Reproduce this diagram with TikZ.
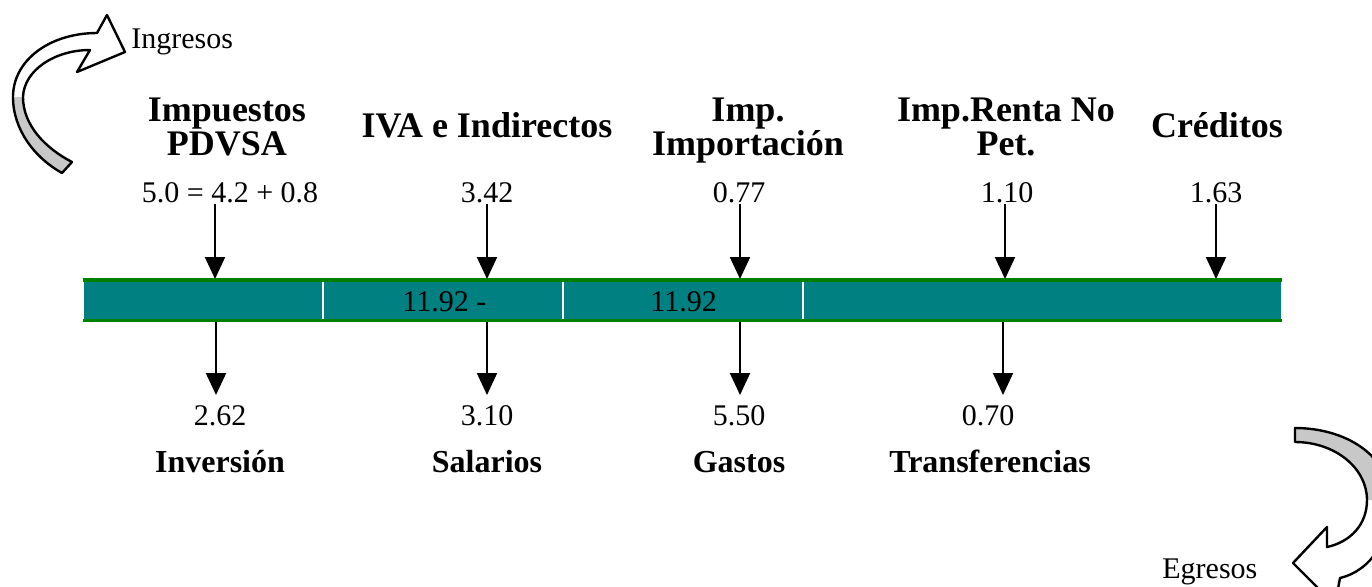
\documentclass[tikz,border=0pt]{standalone}
\usepackage{fontspec}
\setmainfont{Liberation Serif}
\usetikzlibrary{arrows.meta}
\definecolor{barteal}{RGB}{0,128,128}
\definecolor{bargreen}{RGB}{0,128,0}
\definecolor{bandgray}{RGB}{200,200,200}

\begin{document}
\begin{tikzpicture}[x=0.5pt,y=-0.5pt,
    val/.style={font=\fontsize{15}{18}\selectfont,anchor=base,inner sep=0pt},
    lbl/.style={font=\fontsize{18}{20}\selectfont\bfseries,anchor=base,inner sep=0pt},
    outlbl/.style={lbl,font=\fontsize{16}{19}\selectfont\bfseries},
    flow/.style={line width=1pt,-{Triangle[width=10pt,length=11pt]}},
    band/.style={line width=1.2pt,line join=round}]
    \clip (0,0) rectangle (1372,586);

    % curved arrow, Ingresos
    \fill[white] (97,33) -- (107,15) -- (125,52) -- (77,72) -- (90,50)
        .. controls (55,50) and (24,70) .. (23,97)
        .. controls (23,125) and (45,148) .. (72,162) -- (62,173)
        .. controls (35,158) and (13,130) .. (13,97)
        .. controls (13,60) and (50,33) .. (97,33) -- cycle;
    \fill[bandgray] (72,162) -- (62,173) .. controls (35,158) and (13,130) .. (13,97)
        -- (23,97) .. controls (23,125) and (45,148) .. (72,162) -- cycle;
    \draw[band] (97,33) -- (107,15) -- (125,52) -- (77,72) -- (90,50)
        .. controls (55,50) and (24,70) .. (23,97)
        .. controls (23,125) and (45,148) .. (72,162) -- (62,173)
        .. controls (35,158) and (13,130) .. (13,97)
        .. controls (13,60) and (50,33) .. (97,33) -- cycle;
    \node[val,anchor=base west] (ing) at (131,48) {Ingresos};

    % curved arrow, Egresos
    \fill[white] (1295,442) .. controls (1335,442) and (1367,468) .. (1367,500)
        .. controls (1367,525) and (1350,542) .. (1327,547)
        -- (1327,527) -- (1293,563) -- (1335,605) -- (1340,578)
        .. controls (1372,570) and (1390,540) .. (1390,500)
        .. controls (1390,455) and (1345,428) .. (1295,428) -- cycle;
    \fill[bandgray] (1295,442) .. controls (1335,442) and (1367,468) .. (1367,500)
        -- (1390,500) .. controls (1390,455) and (1345,428) .. (1295,428) -- cycle;
    \draw[band] (1295,442) .. controls (1335,442) and (1367,468) .. (1367,500)
        .. controls (1367,525) and (1350,542) .. (1327,547)
        -- (1327,527) -- (1293,563) -- (1335,605) -- (1340,578)
        .. controls (1372,570) and (1390,540) .. (1390,500)
        .. controls (1390,455) and (1345,428) .. (1295,428) -- cycle;
    \node[val,anchor=base west] (egr) at (1162,578) {Egresos};

    % the bar
    \fill[barteal] (83,281) rectangle (1282,320);
    \foreach \x in {83,323,563,803,1282}
        \draw[white,line width=0.6pt] (\x,282) -- (\x,319);
    \draw[bargreen,line width=1.8pt] (83,280) -- (1282,280);
    \draw[bargreen,line width=1.8pt] (83,320.5) -- (1282,320.5);
    \node[val,anchor=base west] (sum1) at (402,311) {11.92 -};
    \node[val,anchor=base west] (sum2) at (650,311) {11.92};

    % incomes
    \node[lbl] (pdv1) at (227,121) {Impuestos};
    \node[lbl] (pdv2) at (227,155) {PDVSA};
    \node[val] (pdv) at (230,202) {5.0 = 4.2 + 0.8};
    \node[lbl] (iva1) at (487,137) {IVA e Indirectos};
    \node[val] (iva) at (487,202) {3.42};
    \node[lbl] (imp1) at (748,121) {Imp.};
    \node[lbl] (imp2) at (748,155) {Importación};
    \node[val] (imp) at (739,202) {0.77};
    \node[lbl] (ren1) at (1006,121) {Imp.Renta No};
    \node[lbl] (ren2) at (1006,155) {Pet.};
    \node[val] (ren) at (1007,202) {1.10};
    \node[lbl] (cre1) at (1217,137) {Créditos};
    \node[val] (cre) at (1216,202) {1.63};

    \foreach \x [count=\i] in {215,487,740,1005,1216} {
        \coordinate (in\i) at (\x,204);
        \coordinate (top\i) at (\x,279);
        \draw[flow] (in\i) -- (top\i);
    }

    % expenses
    \foreach \x [count=\i] in {216,487,740,1003} {
        \coordinate (bot\i) at (\x,322);
        \coordinate (out\i) at (\x,395);
        \draw[flow] (bot\i) -- (out\i);
    }
    \node[val] (inv) at (220,425) {2.62};
    \node[outlbl] (inv1) at (220,472) {Inversión};
    \node[val] (sal) at (487,425) {3.10};
    \node[outlbl] (sal1) at (487,472) {Salarios};
    \node[val] (gas) at (739,425) {5.50};
    \node[outlbl] (gas1) at (739,472) {Gastos};
    \node[val] (tra) at (988,425) {0.70};
    \node[outlbl] (tra1) at (990,472) {Transferencias};
\end{tikzpicture}
\end{document}
